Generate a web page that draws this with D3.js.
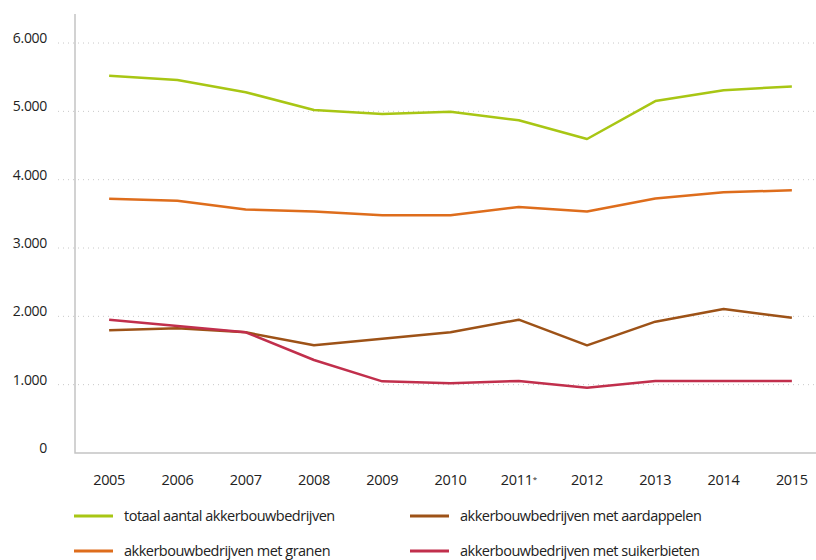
<!DOCTYPE html>
<html>
<head>
<meta charset="utf-8">
<script src="https://cdn.jsdelivr.net/npm/d3@7"></script>
<style>
  body { margin: 0; background: #fff; }
  text { font-family: "Open Sans", sans-serif; fill: #222; }
</style>
</head>
<body>
<svg id="chart"></svg>
<script>
// Data
let vYears = ["2005", "2006", "2007", "2008", "2009", "2010", "2011", "2012", "2013", "2014", "2015"];
let vTotaal = [5520, 5460, 5280, 5020, 4960, 4995, 4870, 4595, 5150, 5310, 5365];
let vGranen = [3720, 3690, 3565, 3535, 3478, 3478, 3600, 3535, 3725, 3815, 3845];
let vAardappelen = [1796, 1825, 1766, 1576, 1673, 1766, 1951, 1576, 1922, 2107, 1980];
let vSuikerbieten = [1951, 1859, 1766, 1361, 1049, 1020, 1054, 956, 1054, 1054, 1054];
let vYTicks = [0, 1000, 2000, 3000, 4000, 5000, 6000];

let vSeries = [
  { name: "totaal aantal akkerbouwbedrijven", values: vTotaal, color: "#a8c614" },
  { name: "akkerbouwbedrijven met aardappelen", values: vAardappelen, color: "#9d5217" },
  { name: "akkerbouwbedrijven met granen", values: vGranen, color: "#de6d1c" },
  { name: "akkerbouwbedrijven met suikerbieten", values: vSuikerbieten, color: "#c12f4c" }
];

let vWidth = 816;
let vHeight = 560;
let vLeft = 75, vTop = 14, vBottom = 453, vRight = 826;

let svg = d3.select('#chart')
  .attr('width', vWidth)
  .attr('height', vHeight)

let x = d3.scalePoint()
  .domain(vYears)
  .range([vLeft, vRight])
  .padding(0.5)

let y = d3.scaleLinear()
  .domain([0, 6000])
  .range([vBottom, vBottom - 6000 * 0.06833])

// dotted grid lines
svg.append('g')
  .selectAll('line')
  .data(vYTicks.filter((d) => d > 0))
  .enter()
  .append('line')
  .attr('x1', 58)
  .attr('x2', vWidth)
  .attr('y1', (d) => y(d))
  .attr('y2', (d) => y(d))
  .style('stroke', '#c8c8c8')
  .style('stroke-width', 1)
  .style('stroke-dasharray', '1,4')

// y labels
let fmt = d3.formatLocale({ decimal: ",", thousands: ".", grouping: [3], currency: ["€", ""] }).format(",d")
svg.append('g')
  .selectAll('text')
  .data(vYTicks)
  .enter()
  .append('text')
  .attr('x', 47)
  .attr('y', (d) => y(d) - 5)
  .attr('dy', '0.35em')
  .attr('text-anchor', 'end')
  .style('font-size', '14px')
  .style('letter-spacing', '-0.3px')
  .text((d) => fmt(d))

// axis frame
svg.append('path')
  .attr('d', `M${vLeft},${vTop}V${vBottom}H${vWidth}`)
  .style('fill', 'none')
  .style('stroke', '#c4c4c4')
  .style('stroke-width', 1.5)

// x labels
let xl = svg.append('g')
  .selectAll('text')
  .data(vYears)
  .enter()
  .append('text')
  .attr('x', (d) => x(d))
  .attr('y', 480)
  .attr('dy', '0.35em')
  .attr('text-anchor', 'middle')
  .style('font-size', '14.5px')
  .style('letter-spacing', '-0.3px')
  .text((d) => d)
xl.filter((d) => d === "2011")
  .append('tspan')
  .attr('dy', '-0.4em')
  .style('font-size', '8px')
  .text('*')

// lines
let vLine = d3.line()
  .x((d, i) => x(vYears[i]))
  .y((d) => y(d))

svg.append('g')
  .selectAll('path')
  .data([vSeries[2], vSeries[0], vSeries[1], vSeries[3]])
  .enter()
  .append('path')
  .attr('d', (d) => vLine(d.values))
  .style('fill', 'none')
  .style('stroke', (d) => d.color)
  .style('stroke-width', 2.5)
  .style('stroke-linejoin', 'round')

// legend
let lg = svg.append('g')
  .selectAll('g')
  .data(vSeries)
  .enter()
  .append('g')
  .attr('transform', (d, i) => `translate(${i % 2 === 0 ? 74 : 410}, ${i < 2 ? 516 : 551})`)

lg.append('line')
  .attr('x1', 0)
  .attr('x2', 39)
  .style('stroke', (d) => d.color)
  .style('stroke-width', 3)

lg.append('text')
  .attr('x', 50)
  .attr('dy', '0.35em')
  .style('font-size', '14.5px')
  .style('letter-spacing', '-0.5px')
  .text((d) => d.name)
</script>
</body>
</html>
